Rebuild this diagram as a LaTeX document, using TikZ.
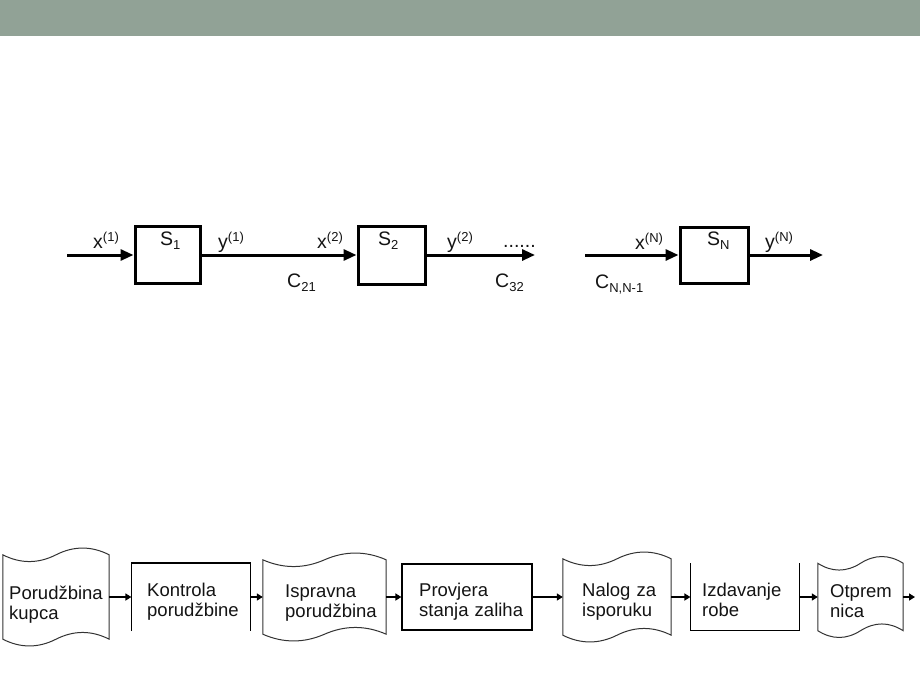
\documentclass[tikz,border=0pt]{standalone}
\usepackage{fontspec}
\setmainfont{Liberation Sans}
\usetikzlibrary{arrows.meta,calc}
\definecolor{barcol}{RGB}{145,162,150}
\definecolor{inkcol}{RGB}{20,20,20}
% raised / lowered indices set in the text face
\newcommand\supx[1]{\raisebox{7pt}{\fontsize{13}{13}\selectfont #1}}
\newcommand\subx[1]{\raisebox{-4pt}{\fontsize{13}{13}\selectfont #1}}
% wavy outline of a document symbol drawn around a named node
\newcommand\docoutline[1]{%
  \draw[docline] let \p1=(#1.north west), \p2=(#1.south east),
    \n1={(\x2-\x1)/2}, \n2={(\x2-\x1)/6} in
    (\x1,\y1) .. controls (\x1+\n2,\y1-9pt) and (\x1+\n1-\n2,\y1-9pt) .. (\x1+\n1,\y1)
    .. controls (\x1+\n1+\n2,\y1+9pt) and (\x2-\n2,\y1+9pt) .. (\x2,\y1)
    -- (\x2,\y2)
    .. controls (\x2-\n2,\y2+9pt) and (\x1+\n1+\n2,\y2+9pt) .. (\x1+\n1,\y2)
    .. controls (\x1+\n1-\n2,\y2-9pt) and (\x1+\n2,\y2-9pt) .. (\x1,\y2)
    -- cycle;}
\begin{document}
\begin{tikzpicture}[x=1pt,y=-1pt,
  lbl/.style={inner sep=0pt, anchor=base west, text=inkcol, font=\fontsize{19.5}{20}\selectfont},
  sysbox/.style={draw, line width=3pt, inner sep=0pt},
  flowarrow/.style={line width=3pt, -{Triangle[length=13pt,width=11pt]}},
  docshape/.style={inner sep=0pt},
  procbox/.style={inner sep=0pt, line width=1.2pt},
  smallarrow/.style={line width=2pt, -{Triangle[length=6pt,width=7pt]}},
  doctext/.style={inner sep=0pt, anchor=base west, align=left, text width=140pt,
    text=inkcol, font=\fontsize{18.5}{20}\selectfont},
  docline/.style={draw=black!80, line width=1pt}
]
\useasboundingbox (0,0) rectangle (920,690);
\fill[white] (0,0) rectangle (920,690);
\fill[barcol] (0,0) rectangle (920,36);

% ---- chain of systems ----
\coordinate (in1) at (67,255);
\node[sysbox, minimum width=65pt, minimum height=57pt] (s1) at (167.5,255) {};
\node[sysbox, minimum width=67pt, minimum height=58pt] (s2) at (391.5,255) {};
\coordinate (out2) at (535,255);
\coordinate (inN) at (585,255);
\node[sysbox, minimum width=68pt, minimum height=56pt] (sN) at (714,255) {};
\coordinate (outN) at (823,255);

\draw[flowarrow] (in1) -- (s1.west);
\draw[flowarrow] (s1.east) -- (s2.west);
\draw[flowarrow] (s2.east) -- (out2);
\draw[flowarrow] (inN) -- (sN.west);
\draw[flowarrow] (sN.east) -- (outN);

\node[lbl] (lx1) at (93,248) {x\supx{(1)}};
\node[lbl] (ls1) at (160,245) {S\subx{1}};
\node[lbl] (ly1) at (218,248) {y\supx{(1)}};
\node[lbl] (lx2) at (317,248) {x\supx{(2)}};
\node[lbl] (lc21) at (287,287) {C\subx{21}};
\node[lbl] (ls2) at (378,245) {S\subx{2}};
\node[lbl] (ly2) at (447,248) {y\supx{(2)}};
\node[lbl] (ldots) at (503,247) {......};
\node[lbl] (lc32) at (495,287) {C\subx{32}};
\node[lbl] (lxN) at (635,249) {x\supx{(N)}};
\node[lbl] (lcN) at (595,288) {C\subx{N,N-1}};
\node[lbl] (lsN) at (707,245) {S\subx{N}};
\node[lbl] (lyN) at (765,248) {y\supx{(N)}};

% ---- order processing flow ----
\node[docshape, minimum width=106pt, minimum height=84pt] (d1) at (56,597) {};
\node[procbox, minimum width=118pt, minimum height=67pt] (r1) at (191,597) {};
\node[docshape, minimum width=123pt, minimum height=74pt] (d2) at (324.5,597) {};
\node[procbox, draw, minimum width=130pt, minimum height=66pt] (r2) at (467,597) {};
\node[docshape, minimum width=108pt, minimum height=76pt] (d3) at (617,597) {};
\node[procbox, minimum width=108pt, minimum height=66pt] (r3) at (745,597) {};
\node[docshape, minimum width=85pt, minimum height=67pt] (d4) at (860.5,597) {};
\coordinate (flowend) at (915,597);

\docoutline{d1}
\docoutline{d2}
\docoutline{d3}
\docoutline{d4}
\draw[procbox] (r1.south west) -- (r1.north west) -- (r1.north east) -- (r1.south east);
\draw[procbox] (r3.north west) -- (r3.south west) -- (r3.south east) -- (r3.north east);

\draw[smallarrow] (d1.east) -- (r1.west);
\draw[smallarrow] (r1.east) -- (d2.west);
\draw[smallarrow] (d2.east) -- (r2.west);
\draw[smallarrow] (r2.east) -- (d3.west);
\draw[smallarrow] (d3.east) -- (r3.west);
\draw[smallarrow] (r3.east) -- (d4.west);
\draw[smallarrow] (d4.east) -- (flowend);

\node[doctext] (t1) at (9,599) {Porudžbina\\kupca};
\node[doctext] (t2) at (147,596) {Kontrola\\porudžbine};
\node[doctext] (t3) at (285,597) {Ispravna\\porudžbina};
\node[doctext] (t4) at (419,596) {Provjera\\stanja zaliha};
\node[doctext] (t5) at (582,596) {Nalog za\\isporuku};
\node[doctext] (t6) at (702,596) {Izdavanje\\robe};
\node[doctext] (t7) at (830,597) {Otprem\\nica};
\end{tikzpicture}
\end{document}
